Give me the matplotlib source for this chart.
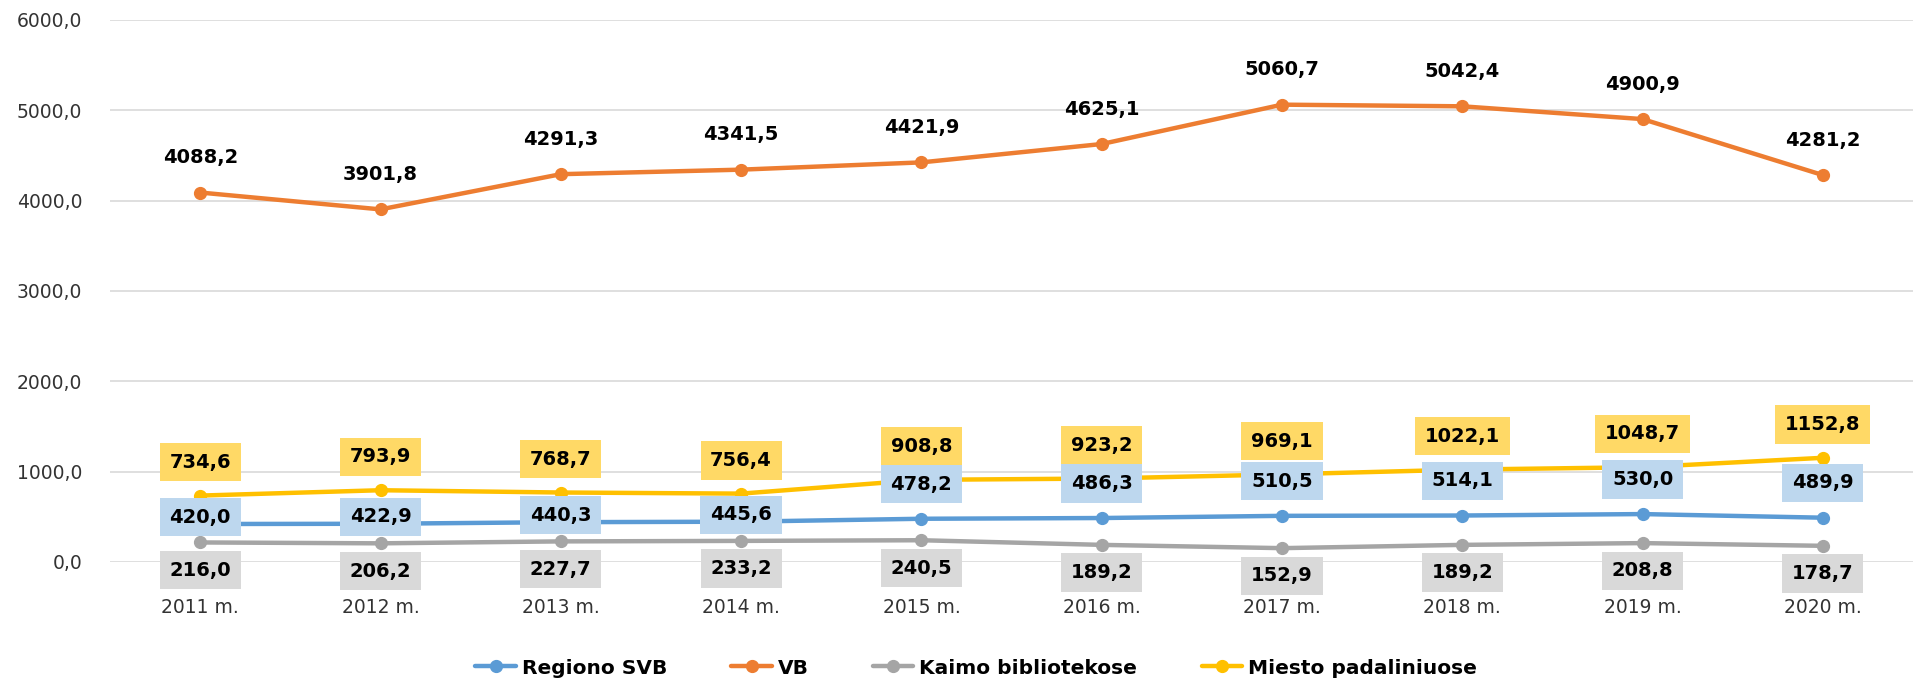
import matplotlib
matplotlib.use("Agg")
import matplotlib.pyplot as plt
import numpy as np

years = ["2011 m.", "2012 m.", "2013 m.", "2014 m.", "2015 m.",
         "2016 m.", "2017 m.", "2018 m.", "2019 m.", "2020 m."]

regiono_svb = [420.0, 422.9, 440.3, 445.6, 478.2, 486.3, 510.5, 514.1, 530.0, 489.9]
vb = [4088.2, 3901.8, 4291.3, 4341.5, 4421.9, 4625.1, 5060.7, 5042.4, 4900.9, 4281.2]
kaimo = [216.0, 206.2, 227.7, 233.2, 240.5, 189.2, 152.9, 189.2, 208.8, 178.7]
miesto = [734.6, 793.9, 768.7, 756.4, 908.8, 923.2, 969.1, 1022.1, 1048.7, 1152.8]

blue = "#5B9BD5"
orange = "#ED7D31"
gray = "#A5A5A5"
yellow = "#FFC000"


def fmt(v):
    return "{:.1f}".format(v).replace(".", ",")


def main():
    plt.rcParams['font.family'] = ['DejaVu Sans']

    fig = plt.figure(figsize=(19.14, 6.82), dpi=100)
    ax = fig.add_axes([0.0575, 0.176, 0.942, 0.795])

    x = np.arange(len(years))

    series = [(regiono_svb, blue, "Regiono SVB"),
              (vb, orange, "VB"),
              (kaimo, gray, "Kaimo bibliotekose"),
              (miesto, yellow, "Miesto padaliniuose")]

    for vals, col, name in series:
        ax.plot(x, vals, '-o', color=col, lw=3.2, markersize=8.5, label=name,
                solid_capstyle='round', zorder=3)

    # data labels
    for i, v in enumerate(vb):
        ax.annotate(fmt(v), (x[i], v), xytext=(0, 25), textcoords='offset points',
                    ha='center', va='center', fontsize=14, fontweight='bold', zorder=5)

    box = 'square,pad=0.5'
    for i, v in enumerate(miesto):
        ax.annotate(fmt(v), (x[i], v), xytext=(0, 24), textcoords='offset points',
                    ha='center', va='center', fontsize=14, fontweight='bold', zorder=6,
                    bbox=dict(boxstyle=box, fc='#FFD966', ec='none'))

    for i, v in enumerate(regiono_svb):
        # labels pushed down where they would hit the yellow ones
        off = 5 if miesto[i] - v < 400 else 25
        ax.annotate(fmt(v), (x[i], v), xytext=(0, off), textcoords='offset points',
                    ha='center', va='center', fontsize=14, fontweight='bold', zorder=6,
                    bbox=dict(boxstyle=box, fc='#BDD7EE', ec='none'))

    for i, v in enumerate(kaimo):
        ax.annotate(fmt(v), (x[i], v), xytext=(0, -20), textcoords='offset points',
                    ha='center', va='center', fontsize=14, fontweight='bold', zorder=6,
                    bbox=dict(boxstyle=box, fc='#D9D9D9', ec='none'))

    ax.set_xlim(-0.5, len(years) - 0.5)
    ax.set_ylim(0, 6000)
    ax.set_yticks(np.arange(0, 6001, 1000))
    ax.set_yticklabels([fmt(t) for t in np.arange(0, 6001, 1000)])
    ax.set_xticks(x)
    ax.set_xticklabels(years)

    ax.grid(axis='y', color='#D9D9D9', lw=1.2, zorder=0)
    ax.set_axisbelow(True)
    for s in ax.spines.values():
        s.set_visible(False)
    ax.tick_params(axis='y', length=0, pad=20, labelsize=13.5, labelcolor='#333333')
    ax.tick_params(axis='x', length=0, pad=26, labelsize=13.5, labelcolor='#333333')

    fig.legend(loc='lower center', ncol=4, frameon=False, bbox_to_anchor=(0.51, -0.02),
               prop={'weight': 'bold', 'size': 14.5}, handlelength=2.0,
               columnspacing=3.2, handletextpad=0.3)

    fig.savefig("out.png", dpi=100)
    plt.close()


if __name__ == '__main__':
    main()
